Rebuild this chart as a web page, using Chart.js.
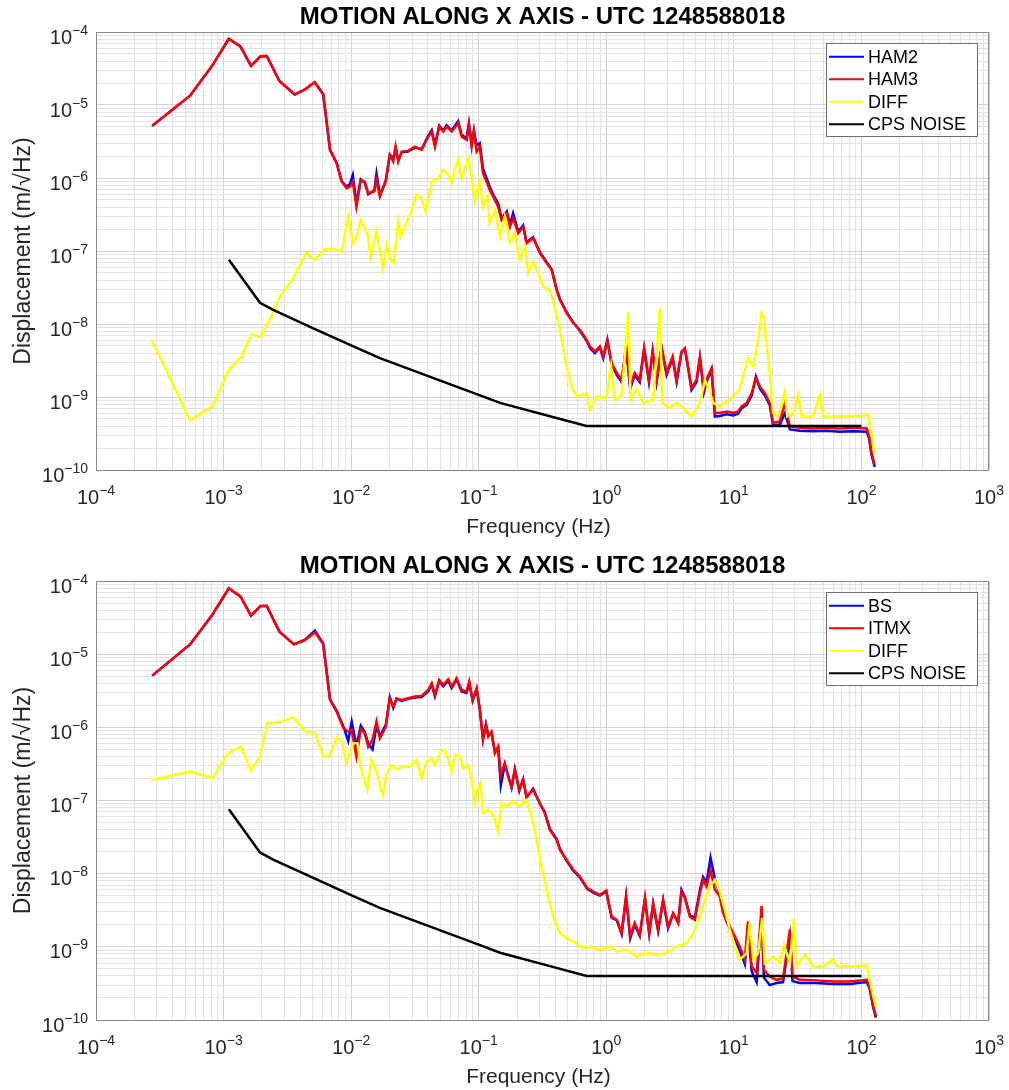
<!DOCTYPE html>
<html lang="en">
<head>
<meta charset="UTF-8">
<title>Motion along X axis</title>
<script src="https://cdn.jsdelivr.net/npm/chart.js"></script>
<style>
  body { margin: 0; background: #fff; }
  canvas { display: block; }
</style>
</head>
<body>
<canvas id="topChart" width="1009" height="545"></canvas>
<canvas id="bottomChart" width="1009" height="545"></canvas>
<script>
// axis decades and labels
const xTickExps = [-4, -3, -2, -1, 0, 1, 2, 3];
const yTickExps = [-10, -9, -8, -7, -6, -5, -4];
const chartTitle = 'MOTION ALONG X AXIS - UTC 1248588018';
const xTitle = 'Frequency (Hz)';
const yTitle = 'Displacement (m/\u221AHz)';

// CPS noise floor (same in both plots)
const cpsFreq  = [1.1e-3, 1.93e-3, 2.45e-3, 5e-3, 1e-2, 1.68e-2, 5e-2, 0.1, 0.147, 0.4, 0.7, 100];
const cpsNoise = [7.6e-8, 1.95e-8, 1.56e-8, 8.8e-9, 5.1e-9, 3.4e-9, 1.68e-9, 1.07e-9, 8.3e-10, 5.2e-10, 4.0e-10, 4.0e-10];

// top plot: HAM2 / HAM3
const topFreq = [
  2.76e-4, 5.46e-4, 8.15e-4, 1.10e-3, 1.36e-3, 1.64e-3, 1.95e-3, 2.18e-3, 2.74e-3, 3.61e-3,
  4.35e-3, 5.18e-3, 6.04e-3, 6.83e-3, 7.69e-3, 8.43e-3, 9.22e-3, 9.79e-3, 1.03e-2, 1.10e-2,
  1.19e-2, 1.28e-2, 1.36e-2, 1.52e-2, 1.58e-2, 1.68e-2, 1.87e-2, 2.01e-2, 2.14e-2, 2.23e-2,
  2.34e-2, 2.49e-2, 2.80e-2, 3.16e-2, 3.57e-2, 4.02e-2, 4.28e-2, 4.54e-2, 4.90e-2, 5.27e-2,
  5.60e-2, 6.14e-2, 6.90e-2, 7.35e-2, 8.04e-2, 8.38e-2, 8.80e-2, 9.17e-2, 9.63e-2, 0.102,
  0.108, 0.115, 0.122, 0.130, 0.142, 0.151, 0.166, 0.176, 0.186, 0.204,
  0.223, 0.237, 0.267, 0.302, 0.341, 0.373, 0.408, 0.433, 0.489, 0.551,
  0.621, 0.701, 0.744, 0.814, 0.891, 0.946, 1.02, 1.10, 1.21, 1.32,
  1.43, 1.54, 1.67, 1.83, 1.98, 2.16, 2.31, 2.48, 2.71, 2.97,
  3.31, 3.56, 3.89, 4.13, 4.38, 4.66, 5.10, 5.42, 5.82, 6.18,
  6.69, 7.10, 7.76, 8.77, 9.88, 10.8, 11.5, 12.6, 13.8, 14.9,
  16.0, 17.5, 19.1, 20.3, 22.9, 25.1, 27.5, 32.9, 41.8, 53.3,
  67.7, 86.1, 110, 115, 120, 127
];
const ham2 = [
  5.21e-6, 1.34e-5, 3.46e-5, 8.09e-5, 6.29e-5, 3.43e-5, 4.65e-5, 4.69e-5, 2.13e-5, 1.39e-5,
  1.64e-5, 2.05e-5, 1.40e-5, 2.43e-6, 1.62e-6, 9.1e-7, 7.6e-7, 8.3e-7, 1.10e-6, 4.5e-7,
  9.6e-7, 8.6e-7, 6.0e-7, 6.8e-7, 1.15e-6, 5.8e-7, 9.0e-7, 2.10e-6, 1.85e-6, 2.60e-6,
  1.75e-6, 2.25e-6, 2.30e-6, 2.60e-6, 2.50e-6, 3.80e-6, 4.50e-6, 2.80e-6, 5.20e-6, 4.50e-6,
  5.30e-6, 4.50e-6, 6.00e-6, 3.90e-6, 3.50e-6, 5.60e-6, 3.00e-6, 4.50e-6, 2.80e-6, 3.00e-6,
  1.35e-6, 1.00e-6, 7.6e-7, 5.9e-7, 4.5e-7, 2.8e-7, 3.5e-7, 2.3e-7, 3.3e-7, 1.85e-7,
  2.25e-7, 1.32e-7, 1.55e-7, 9.6e-8, 7.0e-8, 5.6e-8, 3.0e-8, 2.2e-8, 1.45e-8, 1.05e-8,
  8.1e-9, 5.9e-9, 4.7e-9, 4.0e-9, 4.8e-9, 3.4e-9, 6.1e-9, 2.8e-9, 2.0e-9, 1.6e-9,
  4.9e-9, 1.3e-9, 2.0e-9, 1.6e-9, 4.5e-9, 1.6e-9, 4.3e-9, 1.6e-9, 4.7e-9, 2.0e-9,
  3.4e-9, 1.6e-9, 4.1e-9, 4.5e-9, 2.5e-9, 1.25e-9, 1.6e-9, 3.4e-9, 1.15e-9, 1.7e-9,
  2.3e-9, 5.4e-10, 5.5e-10, 5.8e-10, 5.6e-10, 5.9e-10, 7.0e-10, 7.8e-10, 1.05e-9, 1.9e-9,
  1.3e-9, 1.05e-9, 7.8e-10, 4.1e-10, 4.2e-10, 6.0e-10, 3.6e-10, 3.45e-10, 3.4e-10, 3.45e-10,
  3.35e-10, 3.4e-10, 3.35e-10, 2.7e-10, 1.6e-10, 1.1e-10
];
const ham3 = [
  5.21e-6, 1.34e-5, 3.46e-5, 8.09e-5, 6.29e-5, 3.43e-5, 4.65e-5, 4.69e-5, 2.13e-5, 1.39e-5,
  1.64e-5, 2.05e-5, 1.40e-5, 2.43e-6, 1.60e-6, 8.93e-7, 7.25e-7, 7.63e-7, 8.93e-7, 4.06e-7,
  9.42e-7, 8.93e-7, 6.19e-7, 6.52e-7, 9.42e-7, 5.56e-7, 9.42e-7, 2.07e-6, 1.68e-6, 2.69e-6,
  1.68e-6, 2.30e-6, 2.35e-6, 2.69e-6, 2.43e-6, 3.69e-6, 4.32e-6, 2.69e-6, 5.06e-6, 4.32e-6,
  5.06e-6, 4.32e-6, 5.63e-6, 3.69e-6, 3.32e-6, 5.33e-6, 2.69e-6, 4.32e-6, 2.30e-6, 2.69e-6,
  1.16e-6, 8.93e-7, 6.87e-7, 5.56e-7, 4.06e-7, 2.67e-7, 3.30e-7, 2.16e-7, 2.82e-7, 1.76e-7,
  2.16e-7, 1.28e-7, 1.50e-7, 9.35e-8, 6.82e-8, 5.52e-8, 2.94e-8, 2.14e-8, 1.41e-8, 1.03e-8,
  8.33e-9, 6.08e-9, 4.92e-9, 4.20e-9, 4.92e-9, 3.59e-9, 5.89e-9, 2.92e-9, 2.13e-9, 1.72e-9,
  4.77e-9, 1.39e-9, 2.13e-9, 1.72e-9, 4.68e-9, 1.72e-9, 4.20e-9, 1.72e-9, 4.92e-9, 2.13e-9,
  3.59e-9, 1.72e-9, 4.20e-9, 4.68e-9, 2.62e-9, 1.33e-9, 1.72e-9, 3.59e-9, 1.26e-9, 1.82e-9,
  2.49e-9, 6.03e-10, 6.03e-10, 6.34e-10, 6.03e-10, 6.34e-10, 7.43e-10, 8.26e-10, 1.13e-9, 1.82e-9,
  1.39e-9, 1.13e-9, 8.26e-10, 4.40e-10, 4.63e-10, 8.0e-10, 3.95e-10, 3.8e-10, 3.7e-10, 3.8e-10,
  3.7e-10, 3.8e-10, 3.7e-10, 2.88e-10, 1.71e-10, 1.18e-10
];
const topDiffFreq = [
  2.73e-4, 5.46e-4, 8.21e-4, 1.09e-3, 1.39e-3, 1.66e-3, 1.93e-3, 2.31e-3, 2.77e-3, 3.52e-3,
  4.43e-3, 5.20e-3, 6.23e-3, 7.24e-3, 8.43e-3, 9.49e-3, 1.03e-2, 1.10e-2, 1.19e-2, 1.34e-2,
  1.42e-2, 1.58e-2, 1.77e-2, 1.90e-2, 2.01e-2, 2.16e-2, 2.34e-2, 2.44e-2, 2.89e-2, 3.26e-2,
  3.57e-2, 3.84e-2, 4.28e-2, 4.82e-2, 5.27e-2, 5.77e-2, 6.14e-2, 6.51e-2, 6.90e-2, 7.35e-2,
  8.28e-2, 8.80e-2, 9.34e-2, 0.102, 0.108, 0.117, 0.122, 0.134, 0.147, 0.160,
  0.176, 0.192, 0.210, 0.230, 0.244, 0.267, 0.293, 0.321, 0.361, 0.383,
  0.433, 0.489, 0.535, 0.585, 0.701, 0.744, 0.839, 1.00, 1.09, 1.17,
  1.32, 1.49, 1.55, 1.73, 1.95, 2.33, 2.63, 2.74, 3.15, 3.56,
  4.01, 4.66, 5.42, 5.93, 6.40, 6.89, 7.76, 9.31, 11.1, 12.9,
  14.2, 15.5, 16.5, 17.2, 18.0, 19.1, 20.3, 22.2, 25.1, 26.2,
  29.2, 31.9, 34.0, 41.8, 47.2, 50.1, 60.0, 76.4, 97.1, 113,
  120, 127
];
const topDiff = [
  6.08e-9, 4.78e-10, 7.43e-10, 2.31e-9, 3.59e-9, 7.28e-9, 6.62e-9, 1.14e-8, 2.38e-8, 4.25e-8,
  9.35e-8, 7.57e-8, 1.06e-7, 1.06e-7, 9.83e-8, 2.96e-7, 1.25e-7, 1.50e-7, 2.67e-7, 1.76e-7,
  8.39e-8, 1.85e-7, 5.82e-8, 1.21e-7, 7.98e-8, 6.82e-8, 2.53e-7, 1.58e-7, 3.13e-7, 5.87e-7,
  5.29e-7, 3.47e-7, 8.93e-7, 9.94e-7, 1.29e-6, 1.10e-6, 8.49e-7, 1.36e-6, 1.77e-6, 9.94e-7,
  1.87e-6, 1.05e-6, 5.01e-7, 8.93e-7, 4.06e-7, 5.56e-7, 2.41e-7, 3.66e-7, 1.58e-7, 2.96e-7,
  1.28e-7, 1.76e-7, 7.57e-8, 1.15e-7, 4.97e-8, 7.18e-8, 4.97e-8, 3.26e-8, 2.90e-8, 2.14e-8,
  8.33e-9, 2.62e-9, 1.39e-9, 1.02e-9, 1.13e-9, 6.69e-10, 1.02e-9, 9.68e-10, 2.62e-9, 9.17e-10,
  1.07e-9, 1.48e-8, 9.17e-10, 1.26e-9, 8.26e-10, 9.17e-10, 1.65e-8, 8.26e-10, 7.06e-10, 8.26e-10,
  7.06e-10, 5.42e-10, 8.26e-10, 1.72e-9, 1.26e-9, 8.26e-10, 7.43e-10, 9.17e-10, 1.26e-9, 3.41e-9,
  2.62e-9, 6.08e-9, 1.41e-8, 1.27e-8, 5.47e-9, 2.13e-9, 6.03e-10, 5.42e-10, 1.19e-9, 5.42e-10,
  5.71e-10, 1.07e-9, 5.42e-10, 5.42e-10, 1.07e-9, 5.42e-10, 5.42e-10, 5.42e-10, 5.50e-10, 5.71e-10,
  3.21e-10, 1.62e-10
];

// bottom plot: BS / ITMX
const botFreq = [
  2.76e-4, 5.46e-4, 8.15e-4, 1.10e-3, 1.36e-3, 1.64e-3, 1.95e-3, 2.18e-3, 2.74e-3, 3.56e-3,
  4.35e-3, 5.20e-3, 6.04e-3, 6.83e-3, 7.69e-3, 8.71e-3, 9.49e-3, 1.01e-2, 1.10e-2, 1.19e-2,
  1.28e-2, 1.36e-2, 1.47e-2, 1.58e-2, 1.68e-2, 1.87e-2, 2.01e-2, 2.14e-2, 2.27e-2, 2.49e-2,
  2.80e-2, 3.16e-2, 3.57e-2, 4.02e-2, 4.28e-2, 4.54e-2, 4.90e-2, 5.27e-2, 5.77e-2, 6.14e-2,
  6.71e-2, 7.35e-2, 8.04e-2, 8.43e-2, 8.96e-2, 9.63e-2, 0.102, 0.108, 0.114, 0.119,
  0.126, 0.134, 0.142, 0.149, 0.160, 0.170, 0.181, 0.192, 0.208, 0.223,
  0.237, 0.267, 0.302, 0.330, 0.361, 0.408, 0.433, 0.489, 0.551, 0.621,
  0.708, 0.789, 0.891, 1.00, 1.10, 1.21, 1.32, 1.43, 1.54, 1.67,
  1.83, 2.01, 2.17, 2.33, 2.55, 2.79, 3.05, 3.34, 3.66, 3.89,
  4.13, 4.52, 4.94, 5.42, 5.74, 6.11, 6.56, 7.10, 7.76, 8.24,
  8.77, 9.59, 10.2, 11.1, 12.2, 12.9, 13.8, 15.1, 16.5, 17.2,
  19.1, 21.6, 24.3, 27.5, 28.8, 32.9, 44.5, 60.0, 81.1, 110,
  116, 124, 130
];
const bs = [
  5.09e-6, 1.36e-5, 3.43e-5, 7.95e-5, 6.10e-5, 3.36e-5, 4.55e-5, 4.55e-5, 2.03e-5, 1.36e-5,
  1.58e-5, 2.10e-5, 1.40e-5, 2.40e-6, 1.70e-6, 1.02e-6, 6.5e-7, 1.20e-6, 5.5e-7, 1.05e-6,
  8.6e-7, 6.0e-7, 5.0e-7, 1.05e-6, 7.6e-7, 1.08e-6, 2.60e-6, 1.85e-6, 2.45e-6, 2.30e-6,
  2.45e-6, 2.55e-6, 2.60e-6, 3.10e-6, 3.85e-6, 2.65e-6, 4.30e-6, 3.65e-6, 4.35e-6, 3.45e-6,
  4.50e-6, 3.10e-6, 2.95e-6, 4.05e-6, 2.30e-6, 3.30e-6, 1.80e-6, 7.0e-7, 1.10e-6, 7.8e-7,
  8.4e-7, 4.6e-7, 5.3e-7, 1.6e-7, 3.1e-7, 2.2e-7, 1.5e-7, 2.7e-7, 1.35e-7, 1.95e-7,
  1.10e-7, 1.45e-7, 9.0e-8, 6.9e-8, 4.1e-8, 3.0e-8, 2.2e-8, 1.5e-8, 1.1e-8, 8.9e-9,
  6.2e-9, 5.5e-9, 5.0e-9, 5.7e-9, 2.5e-9, 2.3e-9, 1.5e-9, 4.8e-9, 1.3e-9, 2.0e-9,
  1.4e-9, 4.5e-9, 1.5e-9, 3.8e-9, 1.65e-9, 4.3e-9, 1.8e-9, 2.8e-9, 2.2e-9, 6.0e-9,
  4.8e-9, 2.7e-9, 2.5e-9, 6.0e-9, 9.0e-9, 7.5e-9, 1.65e-8, 8.5e-9, 5.2e-9, 3.0e-9,
  2.2e-9, 1.6e-9, 1.3e-9, 9.0e-10, 5.8e-10, 1.9e-9, 4.6e-10, 3.3e-10, 2.8e-9, 3.8e-10,
  3.0e-10, 3.2e-10, 3.3e-10, 1.4e-9, 3.4e-10, 3.2e-10, 3.2e-10, 3.1e-10, 3.1e-10, 3.3e-10,
  2.7e-10, 1.45e-10, 1.08e-10
];
const itmx = [
  5.09e-6, 1.36e-5, 3.43e-5, 7.95e-5, 6.10e-5, 3.36e-5, 4.55e-5, 4.55e-5, 2.03e-5, 1.36e-5,
  1.56e-5, 1.99e-5, 1.38e-5, 2.37e-6, 1.64e-6, 9.72e-7, 8.73e-7, 9.21e-7, 3.98e-7, 9.42e-7,
  8.30e-7, 5.45e-7, 6.73e-7, 1.20e-6, 7.10e-7, 1.02e-6, 2.50e-6, 1.92e-6, 2.50e-6, 2.37e-6,
  2.50e-6, 2.63e-6, 2.69e-6, 3.24e-6, 4.00e-6, 2.77e-6, 4.44e-6, 3.80e-6, 4.54e-6, 3.60e-6,
  4.69e-6, 3.24e-6, 3.08e-6, 4.21e-6, 2.37e-6, 3.42e-6, 1.73e-6, 6.73e-7, 1.08e-6, 7.46e-7,
  8.73e-7, 4.43e-7, 5.45e-7, 2.24e-7, 3.23e-7, 2.12e-7, 1.55e-7, 2.62e-7, 1.40e-7, 1.91e-7,
  1.13e-7, 1.40e-7, 9.18e-8, 6.70e-8, 3.97e-8, 2.90e-8, 2.11e-8, 1.54e-8, 1.13e-8, 9.13e-9,
  6.34e-9, 5.69e-9, 5.13e-9, 5.87e-9, 2.59e-9, 2.34e-9, 1.54e-9, 4.98e-9, 1.38e-9, 2.11e-9,
  1.46e-9, 4.63e-9, 1.54e-9, 3.95e-9, 1.71e-9, 4.39e-9, 1.89e-9, 2.89e-9, 2.11e-9, 5.69e-9,
  4.63e-9, 2.59e-9, 2.34e-9, 5.42e-9, 8.22e-9, 6.67e-9, 1.13e-8, 6.01e-9, 4.86e-9, 2.89e-9,
  2.34e-9, 1.71e-9, 1.38e-9, 1.01e-9, 6.64e-10, 2.22e-9, 5.38e-10, 4.37e-10, 3.63e-9, 4.85e-10,
  3.93e-10, 3.54e-10, 3.70e-10, 1.71e-9, 3.93e-10, 3.54e-10, 3.48e-10, 3.36e-10, 3.36e-10, 3.54e-10,
  2.87e-10, 1.53e-10, 1.12e-10
];
const botDiffFreq = [
  2.78e-4, 5.46e-4, 8.21e-4, 1.09e-3, 1.37e-3, 1.64e-3, 1.93e-3, 2.20e-3, 2.77e-3, 3.52e-3,
  4.43e-3, 5.20e-3, 6.04e-3, 6.73e-3, 7.69e-3, 8.43e-3, 9.22e-3, 1.04e-2, 1.12e-2, 1.19e-2,
  1.34e-2, 1.44e-2, 1.58e-2, 1.77e-2, 1.90e-2, 2.08e-2, 2.27e-2, 2.56e-2, 2.89e-2, 3.26e-2,
  3.57e-2, 3.91e-2, 4.28e-2, 4.54e-2, 5.12e-2, 5.43e-2, 5.77e-2, 6.14e-2, 6.51e-2, 7.13e-2,
  7.56e-2, 8.28e-2, 8.80e-2, 9.34e-2, 9.91e-2, 0.103, 0.108, 0.119, 0.130, 0.142,
  0.151, 0.166, 0.186, 0.210, 0.237, 0.260, 0.284, 0.311, 0.341, 0.383,
  0.433, 0.489, 0.551, 0.659, 0.744, 0.891, 1.07, 1.21, 1.44, 1.73,
  2.07, 2.48, 2.97, 3.56, 4.26, 4.80, 5.42, 5.93, 6.49, 7.10,
  7.76, 8.49, 9.31, 10.2, 11.1, 12.6, 13.3, 14.2, 15.5, 16.7,
  17.5, 20.3, 22.9, 24.7, 27.5, 29.5, 31.0, 36.0, 41.8, 50.1,
  60.0, 63.8, 81.1, 110, 116, 124, 130
];
const botDiff = [
  1.91e-7, 2.48e-7, 2.02e-7, 4.43e-7, 5.45e-7, 2.54e-7, 3.98e-7, 1.14e-6, 1.17e-6, 1.37e-6,
  8.57e-7, 8.50e-7, 3.98e-7, 3.98e-7, 7.23e-7, 6.38e-7, 3.30e-7, 6.07e-7, 6.07e-7, 2.76e-7,
  1.40e-7, 3.59e-7, 2.48e-7, 1.19e-7, 2.36e-7, 3.06e-7, 2.68e-7, 2.90e-7, 2.90e-7, 3.59e-7,
  2.02e-7, 3.40e-7, 3.78e-7, 3.06e-7, 4.91e-7, 4.91e-7, 3.59e-7, 2.48e-7, 4.20e-7, 3.98e-7,
  2.76e-7, 3.06e-7, 1.91e-7, 9.18e-8, 1.55e-7, 1.72e-7, 6.70e-8, 7.44e-8, 6.36e-8, 3.76e-8,
  9.18e-8, 8.26e-8, 9.66e-8, 8.26e-8, 1.02e-7, 6.03e-8, 3.08e-8, 1.25e-8, 6.01e-9, 2.59e-9,
  1.54e-9, 1.31e-9, 1.18e-9, 9.60e-10, 1.01e-9, 9.10e-10, 1.01e-9, 8.63e-10, 9.10e-10, 7.37e-10,
  8.20e-10, 7.78e-10, 8.20e-10, 1.01e-9, 1.12e-9, 1.54e-9, 2.59e-9, 4.39e-9, 6.67e-9, 8.22e-9,
  5.69e-9, 3.20e-9, 1.71e-9, 1.01e-9, 6.64e-10, 8.20e-10, 2.11e-9, 6.64e-10, 8.20e-10, 2.47e-9,
  5.99e-10, 7.37e-10, 5.99e-10, 1.06e-9, 5.99e-10, 2.39e-9, 5.38e-10, 7.78e-10, 5.38e-10, 5.38e-10,
  6.79e-10, 5.38e-10, 5.38e-10, 5.50e-10, 3.54e-10, 2.09e-10, 1.53e-10
];

const FONT = "'Liberation Sans', Arial, Helvetica, sans-serif";

function pts(freq, vals) {
  return freq.map((f, i) => ({ x: f, y: vals[i] }));
}

function isDecade(v) {
  const e = Math.log10(v);
  return Math.abs(e - Math.round(e)) < 1e-6;
}

// 1..9 x 10^n gridlines like matlab's minor grid
function logTicks(exps) {
  const t = [];
  for (let i = 0; i < exps.length - 1; i++) {
    for (let m = 1; m < 10; m++) t.push({ value: m * Math.pow(10, exps[i]) });
  }
  t.push({ value: Math.pow(10, exps[exps.length - 1]) });
  return t;
}

function powLabel(ctx, x, y, e, align) {
  const base = '10', sup = String(e).replace('-', '\u2212');
  ctx.font = '20px ' + FONT;
  const wb = ctx.measureText(base).width;
  ctx.font = '14px ' + FONT;
  const ws = ctx.measureText(sup).width;
  const x0 = align === 'center' ? x - (wb + ws) / 2 : x - (wb + ws);
  ctx.textAlign = 'left';
  ctx.textBaseline = 'alphabetic';
  ctx.font = '20px ' + FONT;
  ctx.fillText(base, x0, y);
  ctx.font = '14px ' + FONT;
  ctx.fillText(sup, x0 + wb, y - 9);
}

const decor = {
  id: 'decor',
  afterDraw(chart, args, opts) {
    const { ctx, chartArea: a } = chart;
    const x = chart.scales.x, y = chart.scales.y;
    ctx.save();

    // axes box
    ctx.strokeStyle = '#8a8a8a';
    ctx.lineWidth = 1;
    ctx.strokeRect(Math.round(a.left) + 0.5, Math.round(a.top) + 0.5,
                   Math.round(a.right - a.left) - 1, Math.round(a.bottom - a.top));

    // tick labels
    ctx.fillStyle = '#262626';
    xTickExps.forEach(e => powLabel(ctx, x.getPixelForValue(Math.pow(10, e)), a.bottom + 34, e, 'center'));
    yTickExps.forEach(e => powLabel(ctx, a.left - 8, y.getPixelForValue(Math.pow(10, e)) + 11.5, e, 'right'));

    // axis titles
    ctx.font = '21px ' + FONT;
    ctx.textAlign = 'center';
    ctx.textBaseline = 'alphabetic';
    ctx.fillText(xTitle, (a.left + a.right) / 2 - 4, a.bottom + 63);
    ctx.save();
    ctx.translate(30, (a.top + a.bottom) / 2);
    ctx.rotate(-Math.PI / 2);
    ctx.font = '23px ' + FONT;
    ctx.fillText(yTitle, 0, 0);
    ctx.restore();

    // title
    ctx.fillStyle = '#000';
    ctx.font = 'bold 24px ' + FONT;
    ctx.fillText(chartTitle, (a.left + a.right) / 2, a.top - 8.5);

    // legend box, top right inside axes
    const lx = Math.round(a.right) - 163, ly = Math.round(a.top) + 11, lw = 151, lh = 93;
    ctx.fillStyle = '#fff';
    ctx.fillRect(lx, ly, lw, lh);
    ctx.strokeStyle = '#6e6e6e';
    ctx.strokeRect(lx + 0.5, ly + 0.5, lw, lh);
    ctx.font = '18px ' + FONT;
    ctx.textAlign = 'left';
    ctx.textBaseline = 'middle';
    chart.data.datasets.forEach((ds, i) => {
      const ry = ly + 13.7 + i * 22.5;
      ctx.strokeStyle = ds.borderColor;
      ctx.lineWidth = 2;
      ctx.beginPath();
      ctx.moveTo(lx + 3, ry);
      ctx.lineTo(lx + 38, ry);
      ctx.stroke();
      ctx.fillStyle = '#000';
      ctx.fillText(ds.label, lx + 42, ry + 1);
    });

    ctx.restore();
  }
};

function gridColor(c) {
  if (!c.tick) return '#dcdcdc';
  return isDecade(c.tick.value) ? '#d2d2d2' : '#e2e2e2';
}

function makeChart(id, labels, series, pad) {
  const colors = ['#0000ff', '#ff0000', '#ffff00', '#000000'];
  const datasets = series.map((s, i) => ({
    label: labels[i],
    data: s,
    borderColor: colors[i],
    backgroundColor: colors[i],
    borderWidth: 2.5,
    pointRadius: 0,
    tension: 0,
    fill: false,
    order: 4 - i   // matlab draws later lines on top
  }));

  return new Chart(document.getElementById(id), {
    type: 'line',
    data: { datasets },
    plugins: [decor],
    options: {
      responsive: false,
      animation: false,
      events: [],
      layout: { padding: pad },
      plugins: { legend: { display: false }, title: { display: false }, tooltip: { enabled: false } },
      scales: {
        x: {
          type: 'logarithmic', min: 1e-4, max: 1e3,
          ticks: { display: false },
          grid: { color: gridColor, drawTicks: false, lineWidth: 1 },
          border: { display: false },
          afterBuildTicks: s => { s.ticks = logTicks(xTickExps); },
          afterFit: s => { s.height = 0; }
        },
        y: {
          type: 'logarithmic', min: 1e-10, max: 1e-4,
          ticks: { display: false },
          grid: { color: gridColor, drawTicks: false, lineWidth: 1 },
          border: { display: false },
          afterBuildTicks: s => { s.ticks = logTicks(yTickExps); },
          afterFit: s => { s.width = 0; }
        }
      }
    }
  });
}

makeChart('topChart', ['HAM2', 'HAM3', 'DIFF', 'CPS NOISE'],
  [pts(topFreq, ham2), pts(topFreq, ham3), pts(topDiffFreq, topDiff), pts(cpsFreq, cpsNoise)],
  { left: 96, right: 20, top: 32, bottom: 75 });

makeChart('bottomChart', ['BS', 'ITMX', 'DIFF', 'CPS NOISE'],
  [pts(botFreq, bs), pts(botFreq, itmx), pts(botDiffFreq, botDiff), pts(cpsFreq, cpsNoise)],
  { left: 96, right: 20, top: 36, bottom: 70 });
</script>
</body>
</html>
